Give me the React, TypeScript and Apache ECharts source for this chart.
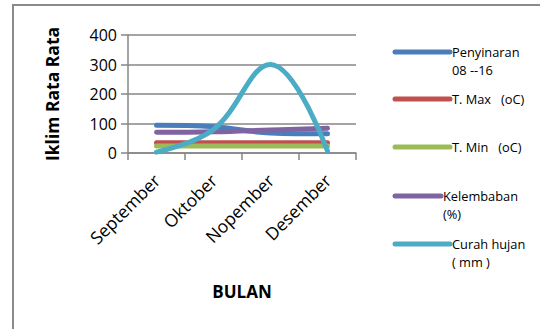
import React, { useEffect, useRef } from "react";
import * as echarts from "echarts";

const categories = ["September", "Oktober", "Nopember", "Desember"];
const seriesNames = ["Penyinaran\n08 --16", "T. Max   (oC)", "T. Min   (oC)", "Kelembaban\n(%)", "Curah hujan\n( mm )"];
const penyinaran = [94, 89, 68, 65];
const tMax = [35, 35, 35, 35];
const tMin = [24, 24, 24, 24];
const kelembaban = [70, 72, 78, 84];
const curahHujan = [3, 80, 300, 7];
const yTicks = [0, 100, 200, 300, 400];
const colors = ["#4A7EBB", "#C0504D", "#9BBB59", "#8064A2", "#4BACC6"];

const FONT = "'Open Sans', sans-serif";

export default function App() {
  const ref = useRef<HTMLDivElement>(null);
  useEffect(() => {
    if (!ref.current) return;
    const chart = echarts.init(ref.current, null, { renderer: "svg" });
    const data = [penyinaran, tMax, tMin, kelembaban, curahHujan];
    const legendY = [52, 99, 147, 196, 244];
    const legendTextX = [452, 452, 452, 443, 452];
    const legendLineEnd = [452, 452, 452, 443, 452];
    const graphics: any[] = [
      {
        type: "rect",
        shape: { x: 13, y: 5, width: 600, height: 400 },
        style: { fill: "none", stroke: "#8a8a8a", lineWidth: 2 },
        silent: true,
      },
    ];
    seriesNames.forEach((n, i) => {
      graphics.push({
        type: "line",
        shape: { x1: 395, y1: legendY[i], x2: legendLineEnd[i] - 2, y2: legendY[i] },
        style: { stroke: colors[i], lineWidth: 5, lineCap: "round" },
      });
      graphics.push({
        type: "text",
        x: legendTextX[i],
        y: legendY[i] - 9,
        style: {
          text: n,
          font: `12.8px ${FONT}`,
          fill: "#000",
          lineHeight: 18,
          verticalAlign: "top",
          align: "left",
        },
      });
    });
    chart.setOption({
      animation: false,
      backgroundColor: "#fff",
      grid: { left: 128, right: 184, top: 35, bottom: 176 },
      xAxis: {
        type: "category",
        data: categories,
        boundaryGap: true,
        name: "BULAN",
        nameLocation: "middle",
        nameGap: 130,
        nameTextStyle: { fontFamily: FONT, fontWeight: "bold", fontSize: 17, color: "#000" },
        axisLine: { lineStyle: { color: "#868686", width: 1.5 } },
        axisTick: { show: true, length: 7, interval: 0, lineStyle: { color: "#868686", width: 1.5 } },
        axisLabel: {
          rotate: 45,
          interval: 0,
          margin: 24,
          fontFamily: FONT,
          fontSize: 17.5,
          color: "#000",
        },
      },
      yAxis: {
        type: "value",
        min: 0,
        max: 400,
        interval: 100,
        name: "Iklim Rata Rata",
        nameLocation: "middle",
        nameGap: 67,
        nameTextStyle: { fontFamily: FONT, fontWeight: "bold", fontSize: 17.5, color: "#000" },
        axisLine: { show: true, lineStyle: { color: "#868686", width: 1.5 } },
        axisTick: { show: true, length: 7, lineStyle: { color: "#868686", width: 1.5 } },
        splitLine: { lineStyle: { color: "#868686", width: 1.5 } },
        axisLabel: {
          margin: 11,
          fontFamily: FONT,
          fontSize: 16,
          color: "#000",
          formatter: (v: number) => (yTicks.includes(v) ? String(v) : ""),
        },
      },
      series: seriesNames.map((n, i) => ({
        name: n,
        type: "line",
        data: data[i],
        smooth: 0.4,
        symbol: "none",
        lineStyle: { color: colors[i], width: 5, cap: "round", join: "round" },
        z: 2 + i,
      })),
      graphic: graphics,
    });
    return () => chart.dispose();
  }, []);
  return (
    <div
      ref={ref}
      style={{ position: "fixed", left: 0, top: 0, width: 540, height: 329, background: "#fff" }}
    />
  );
}
